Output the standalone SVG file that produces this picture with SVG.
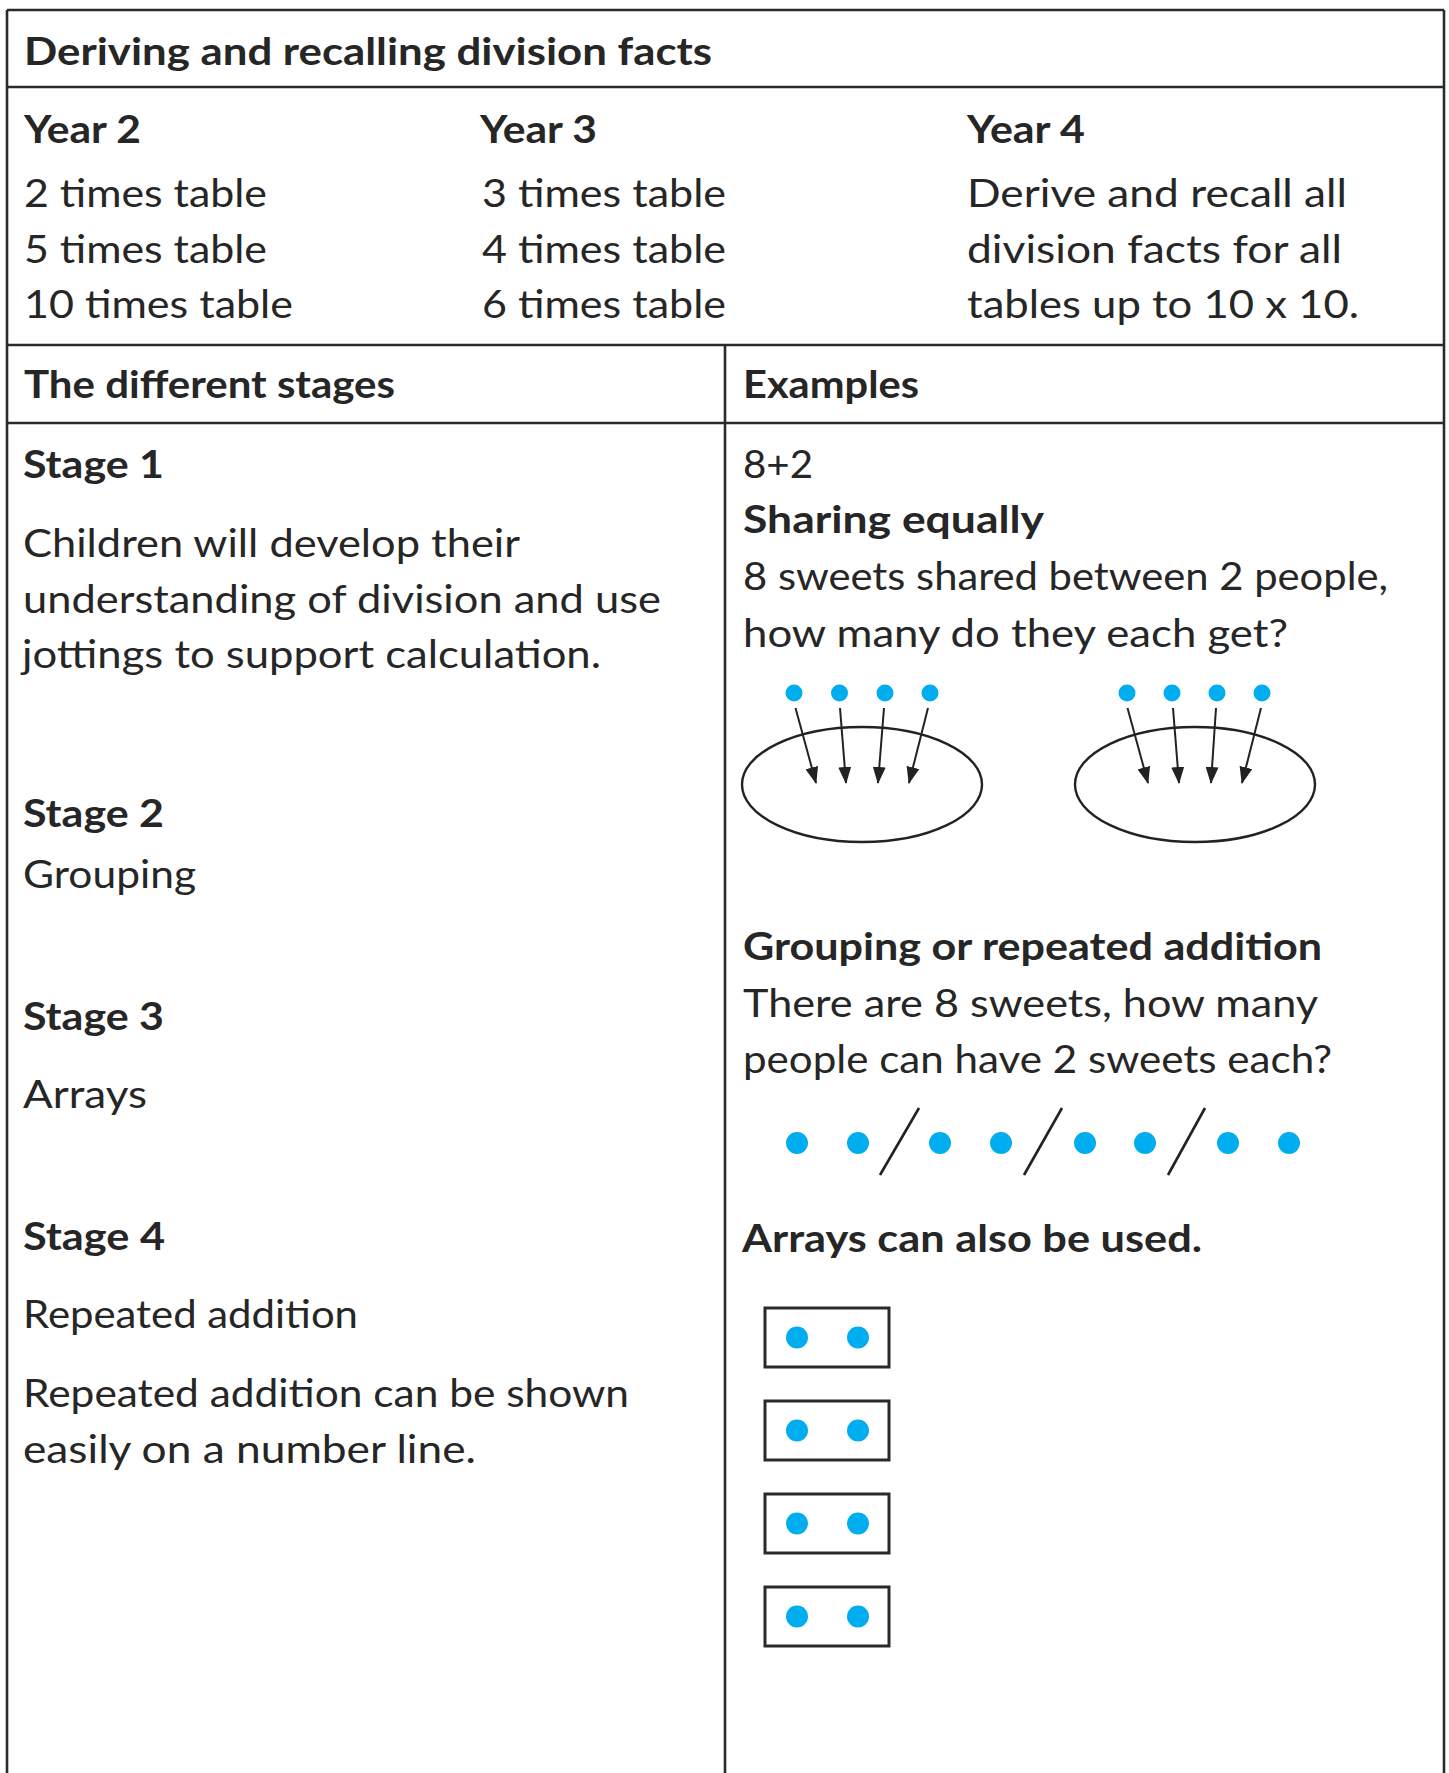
<svg xmlns="http://www.w3.org/2000/svg" width="1449" height="1773" viewBox="0 0 1449 1773">
  <style>
    .grid { stroke: #2a2a2a; stroke-width: 2.6; fill: none; }
    .t { font-family: Lato, "Open Sans", "Liberation Sans", sans-serif; fill: #262626; font-size: 39px; }
    .h { font-weight: 700; font-size: 38px; }
    .dot { fill: #00adef; }
    .ring { fill: none; stroke: #222; stroke-width: 2.4; }
    .arrow { stroke: #222; stroke-width: 2; fill: none; }
    .slash { stroke: #222; stroke-width: 2.6; }
    .box { fill: none; stroke: #2a2a2a; stroke-width: 3; }
  </style>
  <defs>
    <marker id="head" viewBox="0 0 17 13" markerWidth="17" markerHeight="13" refX="16" refY="6.5" orient="auto" markerUnits="userSpaceOnUse">
      <path d="M0,0 L17,6.5 L0,13 Z" fill="#222"/>
    </marker>
  </defs>

  <rect width="1449" height="1773" fill="#fff"/>

  <!-- table frame -->
  <g id="frame">
    <line class="grid" x1="7" y1="10" x2="1444" y2="10"/>
    <line class="grid" x1="7" y1="10" x2="7" y2="1773"/>
    <line class="grid" x1="1444" y1="10" x2="1444" y2="1773"/>
    <line class="grid" x1="7" y1="87" x2="1444" y2="87"/>
    <line class="grid" x1="7" y1="345" x2="1444" y2="345"/>
    <line class="grid" x1="7" y1="423" x2="1444" y2="423"/>
    <line class="grid" x1="725" y1="345" x2="725" y2="1773"/>
  </g>

  <!-- title row -->
  <g id="title">
    <text class="t h" x="24" y="65" textLength="688" lengthAdjust="spacingAndGlyphs">Deriving and recalling division facts</text>
  </g>

  <!-- year columns -->
  <g id="year2">
    <text class="t h" x="24" y="143" textLength="117" lengthAdjust="spacingAndGlyphs">Year 2</text>
    <text class="t" x="24" y="207" textLength="243" lengthAdjust="spacingAndGlyphs">2 times table</text>
    <text class="t" x="24" y="263" textLength="243" lengthAdjust="spacingAndGlyphs">5 times table</text>
    <text class="t" x="24" y="318" textLength="269" lengthAdjust="spacingAndGlyphs">10 times table</text>
  </g>
  <g id="year3">
    <text class="t h" x="480" y="143" textLength="117" lengthAdjust="spacingAndGlyphs">Year 3</text>
    <text class="t" x="482" y="207" textLength="244" lengthAdjust="spacingAndGlyphs">3 times table</text>
    <text class="t" x="482" y="263" textLength="244" lengthAdjust="spacingAndGlyphs">4 times table</text>
    <text class="t" x="482" y="318" textLength="244" lengthAdjust="spacingAndGlyphs">6 times table</text>
  </g>
  <g id="year4">
    <text class="t h" x="967" y="143" textLength="118" lengthAdjust="spacingAndGlyphs">Year 4</text>
    <text class="t" x="967" y="207" textLength="380" lengthAdjust="spacingAndGlyphs">Derive and recall all</text>
    <text class="t" x="967" y="263" textLength="375" lengthAdjust="spacingAndGlyphs">division facts for all</text>
    <text class="t" x="967" y="318" textLength="392" lengthAdjust="spacingAndGlyphs">tables up to 10 x 10.</text>
  </g>

  <!-- column headings -->
  <g id="stages-heading">
    <text class="t h" x="24" y="398" textLength="371" lengthAdjust="spacingAndGlyphs">The different stages</text>
  </g>
  <g id="examples-heading">
    <text class="t h" x="743" y="398" textLength="176" lengthAdjust="spacingAndGlyphs">Examples</text>
  </g>

  <!-- stages -->
  <g id="stage1">
    <text class="t h" x="23" y="478" textLength="141" lengthAdjust="spacingAndGlyphs">Stage 1</text>
    <text class="t" x="23" y="557" textLength="497" lengthAdjust="spacingAndGlyphs">Children will develop their</text>
    <text class="t" x="23" y="613" textLength="638" lengthAdjust="spacingAndGlyphs">understanding of division and use</text>
    <text class="t" x="22" y="668" textLength="579" lengthAdjust="spacingAndGlyphs">jottings to support calculation.</text>
  </g>
  <g id="stage2">
    <text class="t h" x="23" y="827" textLength="141" lengthAdjust="spacingAndGlyphs">Stage 2</text>
    <text class="t" x="23" y="888" textLength="173" lengthAdjust="spacingAndGlyphs">Grouping</text>
  </g>
  <g id="stage3">
    <text class="t h" x="23" y="1030" textLength="141" lengthAdjust="spacingAndGlyphs">Stage 3</text>
    <text class="t" x="23" y="1108" textLength="124" lengthAdjust="spacingAndGlyphs">Arrays</text>
  </g>
  <g id="stage4">
    <text class="t h" x="23" y="1250" textLength="142" lengthAdjust="spacingAndGlyphs">Stage 4</text>
    <text class="t" x="23" y="1328" textLength="335" lengthAdjust="spacingAndGlyphs">Repeated addition</text>
    <text class="t" x="23" y="1407" textLength="606" lengthAdjust="spacingAndGlyphs">Repeated addition can be shown</text>
    <text class="t" x="23" y="1463" textLength="453" lengthAdjust="spacingAndGlyphs">easily on a number line.</text>
  </g>

  <!-- examples: sharing -->
  <g id="sharing">
    <text class="t" x="743" y="478" textLength="70" lengthAdjust="spacingAndGlyphs">8+2</text>
    <text class="t h" x="743" y="533" textLength="301" lengthAdjust="spacingAndGlyphs">Sharing equally</text>
    <text class="t" x="743" y="590" textLength="645" lengthAdjust="spacingAndGlyphs">8 sweets shared between 2 people,</text>
    <text class="t" x="743" y="647" textLength="545" lengthAdjust="spacingAndGlyphs">how many do they each get?</text>
    <ellipse class="ring" cx="862" cy="784.5" rx="120" ry="57.5"/>
    <ellipse class="ring" cx="1195" cy="784.5" rx="120" ry="57.5"/>
    <circle class="dot" cx="794" cy="693" r="8.5"/>
    <circle class="dot" cx="839.5" cy="693" r="8.5"/>
    <circle class="dot" cx="885" cy="693" r="8.5"/>
    <circle class="dot" cx="930" cy="693" r="8.5"/>
    <circle class="dot" cx="1127" cy="693" r="8.5"/>
    <circle class="dot" cx="1172" cy="693" r="8.5"/>
    <circle class="dot" cx="1217" cy="693" r="8.5"/>
    <circle class="dot" cx="1262" cy="693" r="8.5"/>
  </g>

  <!-- examples: grouping -->
  <g id="grouping">
    <text class="t h" x="743" y="960" textLength="579" lengthAdjust="spacingAndGlyphs">Grouping or repeated addition</text>
    <text class="t" x="743" y="1017" textLength="575" lengthAdjust="spacingAndGlyphs">There are 8 sweets, how many</text>
    <text class="t" x="743" y="1073" textLength="589" lengthAdjust="spacingAndGlyphs">people can have 2 sweets each?</text>
    <circle class="dot" cx="797" cy="1143" r="11"/>
    <circle class="dot" cx="858" cy="1143" r="11"/>
    <circle class="dot" cx="940" cy="1143" r="11"/>
    <circle class="dot" cx="1001" cy="1143" r="11"/>
    <circle class="dot" cx="1085" cy="1143" r="11"/>
    <circle class="dot" cx="1145" cy="1143" r="11"/>
    <circle class="dot" cx="1228" cy="1143" r="11"/>
    <circle class="dot" cx="1289" cy="1143" r="11"/>
    <line class="slash" x1="919" y1="1108" x2="880" y2="1175"/>
    <line class="slash" x1="1062" y1="1108" x2="1024" y2="1175"/>
    <line class="slash" x1="1205" y1="1108" x2="1168" y2="1175"/>
  </g>

  <!-- examples: arrays -->
  <g id="arrays">
    <text class="t h" x="742" y="1252" textLength="460" lengthAdjust="spacingAndGlyphs">Arrays can also be used.</text>
    <rect class="box" x="765" y="1308" width="124" height="59"/>
    <rect class="box" x="765" y="1401" width="124" height="59"/>
    <rect class="box" x="765" y="1494" width="124" height="59"/>
    <rect class="box" x="765" y="1587" width="124" height="59"/>
    <circle class="dot" cx="797" cy="1337.5" r="11"/>
    <circle class="dot" cx="858" cy="1337.5" r="11"/>
    <circle class="dot" cx="797" cy="1430.5" r="11"/>
    <circle class="dot" cx="858" cy="1430.5" r="11"/>
    <circle class="dot" cx="797" cy="1523.5" r="11"/>
    <circle class="dot" cx="858" cy="1523.5" r="11"/>
    <circle class="dot" cx="797" cy="1616.5" r="11"/>
    <circle class="dot" cx="858" cy="1616.5" r="11"/>
  </g>

  <!-- sharing arrows: each sweet into a group -->
  <g id="connectors">
    <line class="arrow" x1="795.5" y1="708" x2="816" y2="783" marker-end="url(#head)"/>
    <line class="arrow" x1="840" y1="708" x2="846" y2="783" marker-end="url(#head)"/>
    <line class="arrow" x1="884" y1="708" x2="878" y2="783" marker-end="url(#head)"/>
    <line class="arrow" x1="928" y1="708" x2="909" y2="783" marker-end="url(#head)"/>
    <line class="arrow" x1="1127.5" y1="708" x2="1148" y2="783" marker-end="url(#head)"/>
    <line class="arrow" x1="1173" y1="708" x2="1179" y2="783" marker-end="url(#head)"/>
    <line class="arrow" x1="1216" y1="708" x2="1211" y2="783" marker-end="url(#head)"/>
    <line class="arrow" x1="1261" y1="708" x2="1242" y2="783" marker-end="url(#head)"/>
  </g>
</svg>
